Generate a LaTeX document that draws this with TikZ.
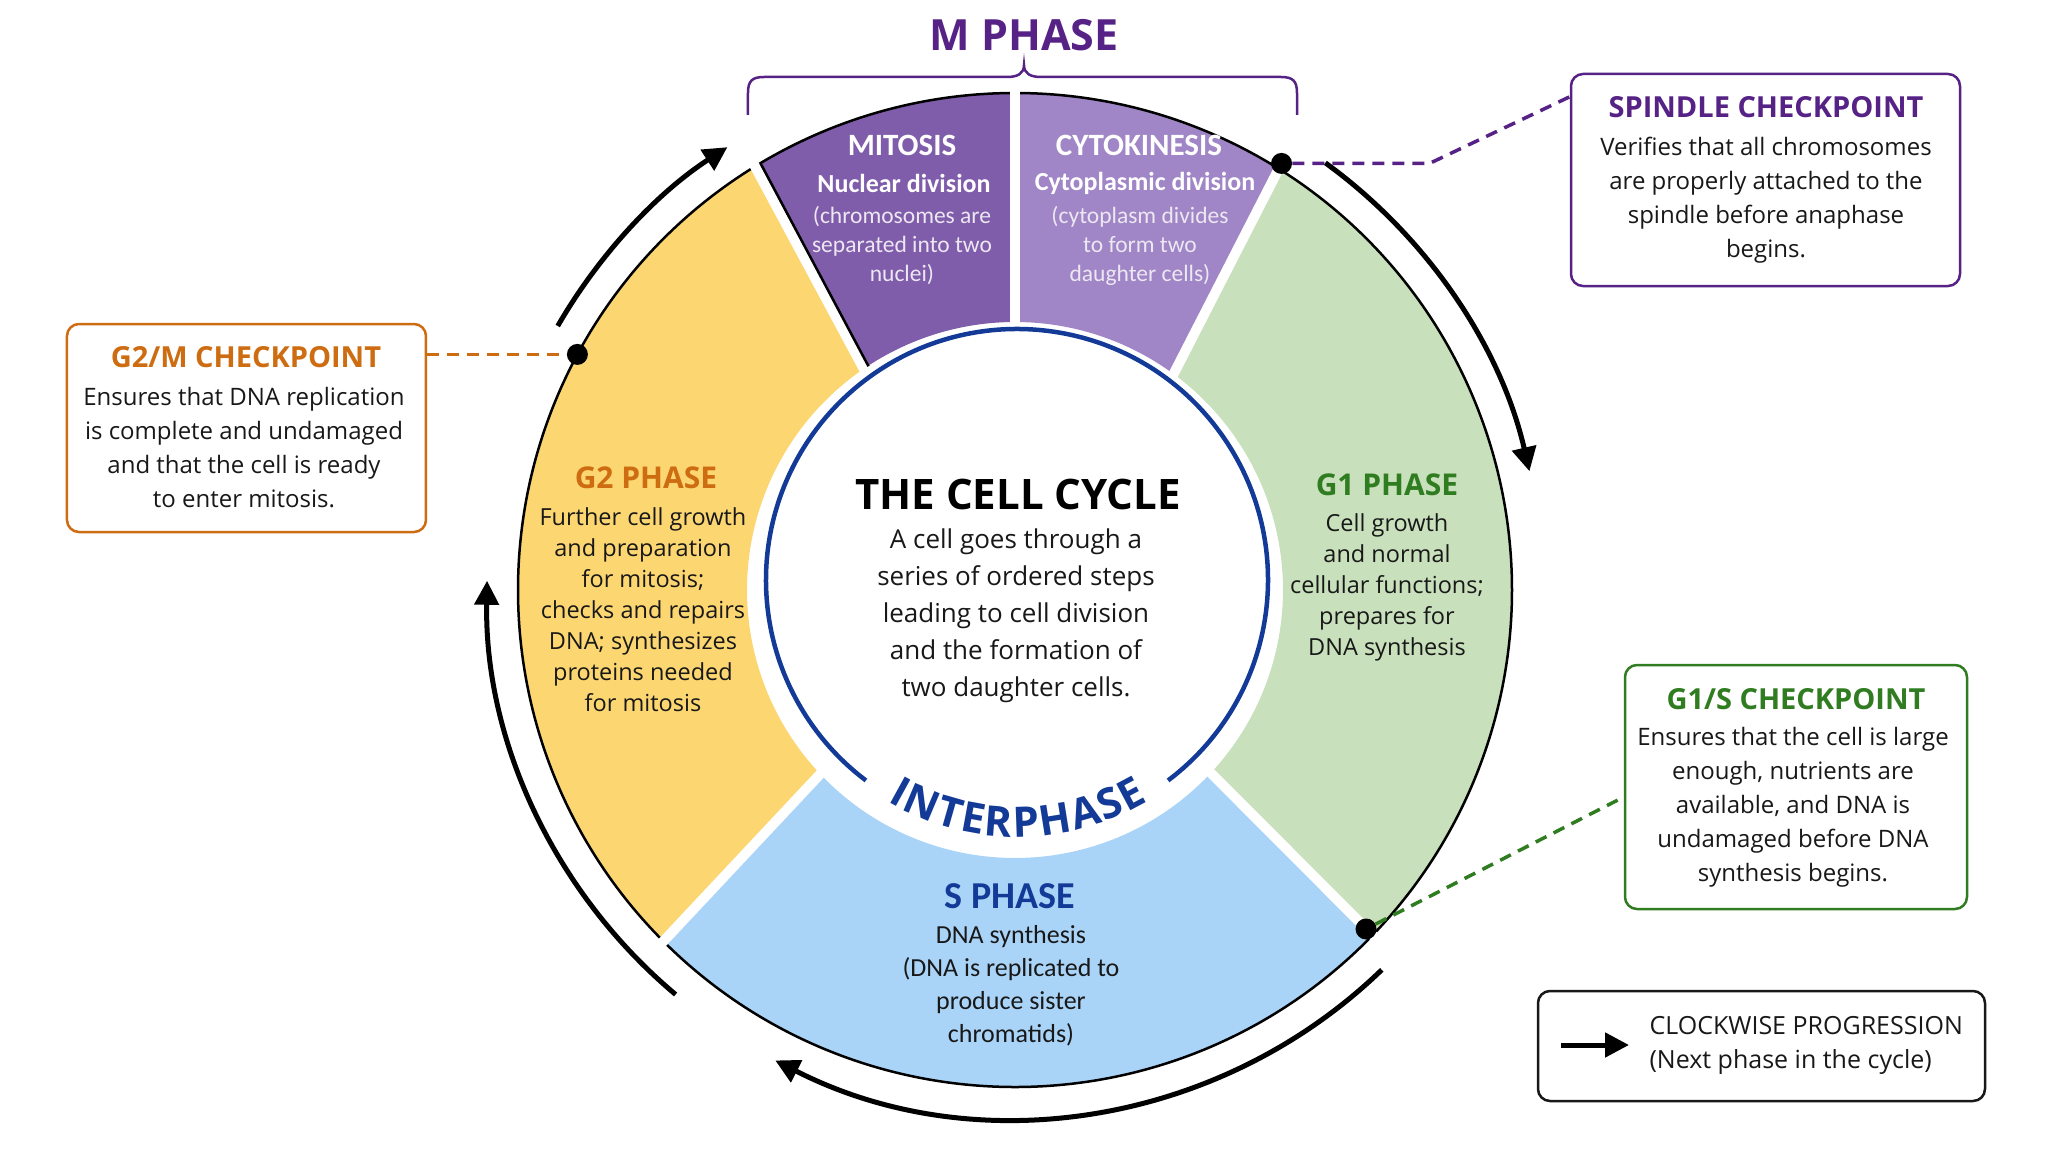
\documentclass[tikz,border=0pt]{standalone}
\usepackage{fontspec}
\setmainfont{Open Sans}
\newfontfamily\ccnarrow{Carlito}
\usetikzlibrary{arrows.meta,calc}
\definecolor{CcInk}{RGB}{24,24,24}
\definecolor{CcPurple}{RGB}{86,34,134}
\definecolor{CcOrange}{RGB}{206,108,18}
\definecolor{CcGreen}{RGB}{48,124,32}
\definecolor{CcBlue}{RGB}{18,58,150}
\definecolor{CcMito}{RGB}{128,93,170}
\definecolor{CcCyto}{RGB}{160,134,198}
\definecolor{CcGone}{RGB}{200,224,187}
\definecolor{CcSph}{RGB}{169,212,248}
\definecolor{CcGtwo}{RGB}{252,214,113}
\tikzset{
  cc/rim/.style={draw=black, line width=2.5pt},
  cc/gap/.style={draw=white, line width=10pt},
  cc/core/.style={draw=CcBlue, line width=4.5pt},
  cc/brace/.style={draw=CcPurple, line width=2.5pt},
  cc/arrow/.style={-{Triangle[length=24pt,width=24pt]}, line width=5pt, draw=black},
  cc/link/.style={draw=#1, line width=3.5pt, dash pattern=on 12pt off 8pt},
  cc/dot/.style={circle, fill=black, minimum size=21pt, inner sep=0pt},
  cc/callout/.style={draw=#1, line width=2.5pt, rounded corners=12pt, fill=white},
  cc/ctitle/.style={font=\fontsize{29}{32}\selectfont\bfseries, text=#1},
  cc/cbody/.style={font=\fontsize{24}{34}\selectfont, text=CcInk, align=center},
  cc/ptitle/.style={font=\fontsize{30}{34}\selectfont\bfseries, text=#1},
  cc/pbody/.style={font=\fontsize{23.5}{31}\selectfont, text=CcInk, align=center},
  cc/mtitle/.style={font=\ccnarrow\fontsize{31}{34}\selectfont\bfseries, text=white},
  cc/msub/.style={font=\ccnarrow\fontsize{26}{30}\selectfont\bfseries, text=white},
  cc/mbody/.style={font=\ccnarrow\fontsize{23.5}{29}\selectfont, text=white!85!CcMito, align=center},
  cc/stitle/.style={font=\ccnarrow\fontsize{38}{40}\selectfont\bfseries, text=CcBlue},
  cc/sbody/.style={font=\ccnarrow\fontsize{26}{33}\selectfont, text=CcInk, align=center},
  cc/letter/.style={font=\fontsize{42}{42}\selectfont\bfseries, text=CcBlue, inner sep=0pt, anchor=base}
}
\begin{document}
\begin{tikzpicture}[x=1pt,y=1pt]
  \useasboundingbox (-1015,-562) rectangle (1033,590);

  % ring sectors: inner start/end, outer start/end, colour
  \foreach \ia/\ib/\oa/\ob/\col in {-43/53.5/-44/58/CcGone, 53.5/90/58/90/CcCyto,
      90/124.5/90/121.5/CcMito, 124.5/223.3/121.5/225/CcGtwo, -136.7/-43/-135/-44/CcSph}{
    \fill[\col] (\ia:268) arc[start angle=\ia, end angle=\ib, radius=268]
      -- (\ob:497) arc[start angle=\ob, end angle=\oa, radius=497] -- cycle;
    \draw[cc/rim] (\oa:497) arc[start angle=\oa, end angle=\ob, radius=497];
  }
  % white gaps between the phases
  \foreach \ia/\oa in {-43/-44, 53.5/58, 90/90, 124.5/121.5, 223.3/225}
    \draw[cc/gap] (\ia:262) -- (\oa:503);
  \draw[cc/rim] ($(124.5:268)+(28:6)$) -- ($(121.5:497)+(28:6)$);

  % inner circle and the interphase label, one letter at a time
  \begin{scope}[shift={(2,10)}]
    \draw[cc/core] (-53:251) arc[start angle=-53, end angle=233, radius=251];
    \foreach \ch/\ang [count=\i] in {I/-118.8, N/-113.0, T/-106.0, E/-100.4, R/-94.4,
        P/-87.9, H/-80.9, A/-73.6, S/-67.5, E/-62.0}
      \node[cc/letter, rotate=\ang+90] (inter\i) at (\ang:257) {\ch};
  \end{scope}

  % M phase bracket
  \node[font=\fontsize{43}{46}\selectfont\bfseries, text=CcPurple] (mphase) at (9,555) {M PHASE};
  \draw[cc/brace] (-267,475) -- (-267,497) .. controls (-267,509) and (-263,513) .. (-251,513)
    -- (-8,513) .. controls (2,513) and (9,516) .. (9,525)
    .. controls (9,516) and (16,513) .. (26,513) -- (266,513)
    .. controls (278,513) and (282,509) .. (282,497) -- (282,475);

  % phase texts
  \node[cc/mtitle] (mitoTitle) at (-113,445) {MITOSIS};
  \node[cc/msub] (mitoSub) at (-111,407) {Nuclear division};
  \node[cc/mbody] (mitoText) at (-113,344) {(chromosomes are\\separated into two\\nuclei)};
  \node[cc/mtitle] (cytoTitle) at (124,445) {CYTOKINESIS};
  \node[cc/msub] (cytoSub) at (130,407) {Cytoplasmic division};
  \node[cc/mbody] (cytoText) at (125,344) {(cytoplasm divides\\to form two\\daughter cells)};
  \node[cc/ptitle=CcOrange] (gtwoTitle) at (-369,112) {G2 PHASE};
  \node[cc/pbody] (gtwoText) at (-372,-20) {Further cell growth\\and preparation\\for mitosis;\\checks and repairs\\DNA; synthesizes\\proteins needed\\for mitosis};
  \node[cc/ptitle=CcGreen] (goneTitle) at (372,105) {G1 PHASE};
  \node[cc/pbody] (goneText) at (372,3) {Cell growth\\and normal\\cellular functions;\\prepares for\\DNA synthesis};
  \node[cc/stitle] (sTitle) at (-5,-306) {S PHASE};
  \node[cc/sbody] (sText) at (-4,-396) {DNA synthesis\\(DNA is replicated to\\produce sister\\chromatids)};
  \node[font=\fontsize{42}{46}\selectfont\bfseries, text=black] (cycleTitle) at (3,96) {THE CELL CYCLE};
  \node[font=\fontsize{26}{37}\selectfont, text=CcInk, align=center] (cycleText) at (1,-26)
    {A cell goes through a\\series of ordered steps\\leading to cell division\\and the formation of\\two daughter cells.};

  % clockwise progression arrows
  \foreach \sa/\ea in {150/123, 54/13, -46/-117, 230/179}
    \draw[cc/arrow] (\sa:528) arc[start angle=\sa, end angle=\ea, radius=528];

  % checkpoints
  \node[cc/dot] (ptSpindle) at (58:503) {};
  \node[cc/dot] (ptGtwoM) at (151.7:497) {};
  \node[cc/dot] (ptGoneS) at (-44:488) {};

  \node[cc/callout=CcPurple, minimum width=389pt, minimum height=212pt] (spindleBox) at (750.5,410) {};
  \node[cc/ctitle=CcPurple] (spindleTitle) at (751,483) {SPINDLE CHECKPOINT};
  \node[cc/cbody] (spindleText) at (751,390) {Verifies that all chromosomes\\are properly attached to the\\spindle before anaphase\\begins.};

  \node[cc/callout=CcOrange, minimum width=359pt, minimum height=208pt] (gtwomBox) at (-768.5,162) {};
  \node[cc/ctitle=CcOrange] (gtwomTitle) at (-769,233) {G2/M CHECKPOINT};
  \node[cc/cbody] (gtwomText) at (-771,142) {Ensures that DNA replication\\is complete and undamaged\\and that the cell is ready\\to enter mitosis.};

  \node[cc/callout=CcGreen, minimum width=342pt, minimum height=244pt] (gonesBox) at (781,-197) {};
  \node[cc/ctitle=CcGreen] (gonesTitle) at (781,-109) {G1/S CHECKPOINT};
  \node[cc/cbody] (gonesText) at (778,-217) {Ensures that the cell is large\\enough, nutrients are\\available, and DNA is\\undamaged before DNA\\synthesis begins.};

  \draw[cc/link=CcPurple] (ptSpindle) -- ++(148,0) -- ($(spindleBox.north west)+(0,-24)$);
  \draw[cc/link=CcOrange] (gtwomBox.east |- ptGtwoM) -- (ptGtwoM);
  \draw[cc/link=CcGreen] (ptGoneS) -- ($(gonesBox.west)+(0,-10)$);

  % legend
  \node[cc/callout=CcInk, minimum width=447pt, minimum height=110pt] (legendBox) at (746.5,-456) {};
  \coordinate (legendTail) at (546,-455);
  \coordinate (legendHead) at (614,-455);
  \draw[cc/arrow] (legendTail) -- (legendHead);
  \node[cc/cbody, font=\fontsize{25}{34}\selectfont, align=left, anchor=west] (legendText) at (631,-455) {CLOCKWISE PROGRESSION\\(Next phase in the cycle)};
\end{tikzpicture}
\end{document}
